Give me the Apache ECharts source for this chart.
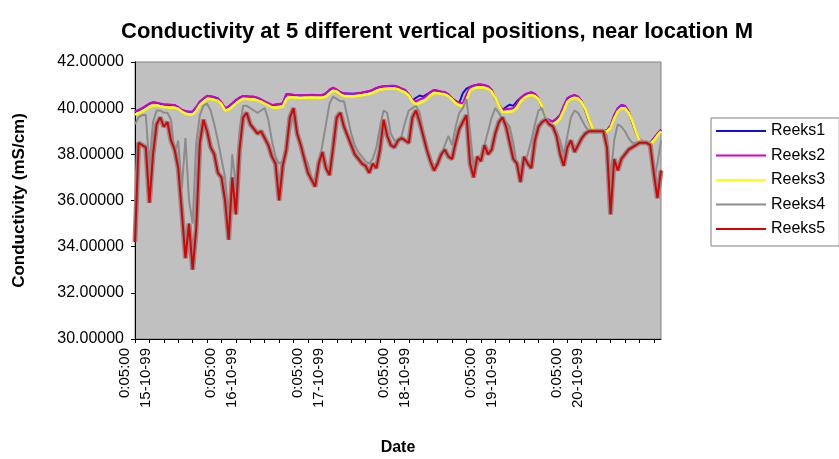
<!DOCTYPE html>
<html><head><meta charset="utf-8">
<script src="https://cdn.jsdelivr.net/npm/echarts@6/dist/echarts.min.js"></script>
<style>html,body{margin:0;padding:0;background:#fff}#c{width:839px;height:459px}</style>
</head><body><div id="c"></div>
<script>
const days = ['15-10-99','16-10-99','17-10-99','18-10-99','19-10-99','20-10-99','21-10-99'];
const yTicks = [30, 32, 34, 36, 38, 40, 42];
const seriesNames = ['Reeks1','Reeks2','Reeks3','Reeks4','Reeks5'];

const reeks1 = [39.85,39.91,39.99,40.09,40.19,40.25,40.23,40.19,40.16,40.15,
40.14,40.13,40.04,39.92,39.87,39.84,39.85,40.04,40.28,40.41,
40.53,40.51,40.47,40.42,40.24,39.99,40.07,40.20,40.34,40.45,
40.52,40.51,40.50,40.49,40.44,40.37,40.28,40.21,40.13,40.15,
40.17,40.20,40.60,40.59,40.57,40.56,40.55,40.56,40.56,40.57,
40.56,40.56,40.56,40.64,40.79,40.88,40.79,40.69,40.63,40.63,
40.62,40.63,40.65,40.67,40.70,40.73,40.79,40.87,40.92,40.94,
40.95,40.96,40.96,40.92,40.84,40.78,40.59,40.34,40.45,40.55,
40.50,40.60,40.69,40.78,40.75,40.71,40.69,40.59,40.42,40.31,
40.23,40.65,40.85,40.92,40.97,41.01,41.02,40.99,40.94,40.79,
40.42,40.14,39.92,40.05,40.15,40.10,40.30,40.44,40.56,40.64,
40.68,40.61,40.42,39.99,39.56,39.47,39.42,39.54,39.70,40.09,
40.42,40.51,40.56,40.49,40.29,39.89,39.44,39.09,39.02,38.99,
38.99,39.04,39.24,39.69,39.99,40.13,40.09,39.85,39.39,38.94,
38.64,38.54,38.49,38.49,38.69,38.89,39.06];

const reeks2 = [39.86,39.92,40.00,40.10,40.20,40.26,40.24,40.20,40.17,40.16,
40.15,40.14,40.05,39.93,39.88,39.85,39.86,40.05,40.29,40.42,
40.54,40.52,40.48,40.43,40.25,40.00,40.08,40.21,40.35,40.46,
40.53,40.52,40.51,40.50,40.45,40.38,40.29,40.22,40.14,40.16,
40.18,40.21,40.61,40.60,40.58,40.57,40.56,40.57,40.57,40.58,
40.57,40.57,40.57,40.65,40.80,40.89,40.80,40.70,40.64,40.64,
40.63,40.64,40.66,40.68,40.71,40.74,40.80,40.88,40.93,40.95,
40.96,40.97,40.97,40.93,40.85,40.79,40.60,40.35,40.29,40.38,
40.43,40.55,40.70,40.79,40.76,40.72,40.70,40.60,40.43,40.32,
40.24,40.21,40.60,40.93,40.98,41.02,41.03,41.00,40.95,40.80,
40.43,40.15,39.93,39.95,39.97,40.00,40.20,40.45,40.57,40.65,
40.69,40.62,40.43,40.00,39.57,39.48,39.43,39.55,39.71,40.10,
40.43,40.52,40.57,40.50,40.30,39.90,39.45,39.10,39.03,39.00,
39.00,39.05,39.25,39.70,40.00,40.14,40.10,39.86,39.40,38.95,
38.65,38.55,38.50,38.50,38.70,38.90,39.07];

const reeks3 = [39.72,39.78,39.86,39.95,40.05,40.12,40.12,40.08,40.05,40.04,
40.03,40.02,39.98,39.85,39.76,39.73,39.72,39.88,40.14,40.28,
40.40,40.40,40.36,40.32,40.18,39.90,39.94,40.06,40.20,40.32,
40.40,40.40,40.39,40.38,40.34,40.28,40.20,40.12,40.04,40.02,
40.04,40.06,40.40,40.47,40.46,40.45,40.44,40.45,40.45,40.46,
40.45,40.45,40.45,40.50,40.64,40.76,40.72,40.60,40.52,40.52,
40.51,40.52,40.54,40.56,40.59,40.61,40.66,40.74,40.80,40.83,
40.84,40.85,40.85,40.82,40.75,40.68,40.55,40.30,40.15,40.22,
40.30,40.40,40.55,40.66,40.65,40.62,40.60,40.52,40.38,40.22,
40.12,40.08,40.35,40.76,40.85,40.90,40.91,40.89,40.84,40.72,
40.45,40.12,39.84,39.82,39.84,39.88,40.02,40.28,40.44,40.53,
40.57,40.53,40.40,40.05,39.55,39.36,39.30,39.38,39.56,39.90,
40.28,40.40,40.45,40.42,40.25,39.95,39.50,39.12,39.00,38.98,
38.98,39.00,39.15,39.55,39.86,40.00,40.00,39.80,39.45,38.98,
38.62,38.50,38.46,38.46,38.60,38.82,39.00];

const reeks4 = [39.30,39.60,39.70,39.70,37.50,39.40,39.90,39.90,39.80,39.80,
39.50,38.00,38.60,36.50,38.70,36.00,35.00,38.50,39.70,40.10,
40.20,39.90,39.30,38.60,37.80,37.00,35.20,38.00,36.60,39.00,
40.10,40.10,40.00,39.90,39.80,39.90,40.00,39.50,38.60,37.90,
37.60,37.70,38.00,39.00,39.80,39.00,38.30,37.90,37.60,37.00,
36.80,37.50,38.40,39.30,40.20,40.50,40.40,40.30,40.30,39.60,
38.90,38.40,38.10,37.90,37.70,37.60,37.80,38.30,39.20,39.90,
39.80,38.90,38.60,38.50,38.80,39.40,39.90,40.00,40.10,39.80,
39.00,38.20,37.60,37.40,37.60,38.00,38.40,38.80,38.40,39.20,
39.80,40.00,40.40,39.00,37.40,37.50,37.90,38.40,39.00,39.60,
40.00,39.80,39.50,39.40,39.20,38.50,37.50,37.20,37.60,38.00,
38.60,39.30,39.90,40.00,39.50,39.30,39.20,39.00,38.60,38.00,
38.80,39.60,39.90,39.80,39.50,39.20,39.00,39.00,39.00,39.00,
39.00,38.80,37.00,38.60,39.30,39.20,39.00,38.70,38.50,38.50,
38.50,38.50,38.50,38.40,36.80,37.60,38.60];

const reeks5 = [34.20,38.50,38.40,38.30,35.90,38.00,39.30,39.60,39.20,39.40,
38.60,38.20,37.40,35.50,33.50,35.00,33.00,34.80,38.50,39.50,
39.00,38.30,38.00,37.20,37.00,36.00,34.30,37.00,35.40,38.20,
39.60,39.80,39.30,39.10,38.90,39.00,38.70,38.40,37.90,37.60,
36.00,37.50,38.20,39.60,40.00,38.90,38.40,37.80,37.20,36.90,
36.60,37.60,38.10,37.40,37.10,38.30,39.60,39.80,39.20,38.80,
38.40,38.00,37.80,37.60,37.50,37.20,37.60,37.40,38.20,39.50,
38.80,38.40,38.30,38.60,38.70,38.60,38.50,39.60,39.90,39.40,
38.80,38.20,37.70,37.30,37.60,38.00,38.20,37.90,37.80,38.50,
39.10,39.40,39.70,37.60,37.00,37.90,37.70,38.40,38.00,38.20,
38.90,39.40,39.60,39.20,38.50,37.80,37.60,36.80,37.90,37.60,
37.40,38.60,39.20,39.40,39.50,39.30,39.20,38.80,38.00,37.50,
38.30,38.60,38.10,38.40,38.70,38.90,39.00,39.00,39.00,39.00,
39.00,38.30,35.40,37.80,37.30,37.80,38.00,38.20,38.30,38.40,
38.50,38.50,38.50,38.40,37.20,36.10,37.30];

const categories = reeks1.map((_, i) => (i % 24) + ':05:00\n' + days[Math.floor(i / 24)]);

const colors = ['#1010d8', '#d000d0', '#ffff00', '#8c8c8c', '#dc0000'];
const values = [reeks1, reeks2, reeks3, reeks4, reeks5];
const FONT = 'Liberation Sans, Arial, sans-serif';

const series = [];
values.forEach((d, k) => {
  if (k === 4) {
    series.push({
      name: 'halo', type: 'line', data: d, symbol: 'none', silent: true,
      lineStyle: { color: '#8c8c8c', width: 5 }, animation: false
    });
  }
  series.push({
    name: seriesNames[k], type: 'line', data: d, symbol: 'none',
    lineStyle: { color: colors[k], width: k === 2 ? 2.5 : 2 },
    itemStyle: { color: colors[k] }, animation: false
  });
});

const chart = echarts.init(document.getElementById('c'), null, { renderer: 'canvas' });
chart.setOption({
  animation: false,
  backgroundColor: '#ffffff',
  title: {
    text: 'Conductivity at 5 different vertical positions, near location M',
    left: 116, top: 16,
    textStyle: { fontFamily: FONT, fontSize: 22, fontWeight: 'bold', color: '#000' }
  },
  legend: {
    data: seriesNames, orient: 'vertical', left: 711, top: 118,
    padding: [4, 14, 8, 5], itemGap: 6.5, itemWidth: 50, itemHeight: 2, icon: 'rect',
    backgroundColor: '#ffffff', borderColor: '#808080', borderWidth: 1, borderRadius: 0,
    textStyle: { fontFamily: FONT, fontSize: 16, color: '#000', lineHeight: 18 }
  },
  grid: { left: 135, right: 178, top: 62, bottom: 120, show: true,
          outerBoundsMode: 'none', containLabel: false,
          backgroundColor: '#c0c0c0', borderColor: '#808080', borderWidth: 1 },
  xAxis: {
    type: 'category', data: categories, boundaryGap: false,
    name: 'Date', nameLocation: 'middle', nameGap: 101,
    nameTextStyle: { fontFamily: FONT, fontSize: 16, fontWeight: 'bold', color: '#000' },
    axisLine: { lineStyle: { color: '#000', width: 1 } },
    axisTick: { interval: 3, length: 4, lineStyle: { color: '#000' } },
    axisLabel: { interval: (i) => i % 24 === 0 && i < 144, rotate: 90, fontFamily: FONT,
                 fontSize: 15, lineHeight: 21, color: '#000', margin: 9 },
    splitLine: { show: false }
  },
  yAxis: {
    type: 'value', min: yTicks[0], max: yTicks[yTicks.length - 1], interval: 2,
    name: 'Conductivity (mS/cm)', nameLocation: 'middle', nameGap: 107, nameRotate: 90,
    nameTextStyle: { fontFamily: FONT, fontSize: 17, fontWeight: 'bold', color: '#000' },
    axisLine: { show: true, lineStyle: { color: '#000', width: 1 } },
    axisTick: { show: true, length: 4, lineStyle: { color: '#000' } },
    axisLabel: { formatter: v => v.toFixed(5), fontFamily: FONT, fontSize: 16, color: '#000', margin: 11 },
    splitLine: { show: false }
  },
  series: series
});
</script></body></html>
